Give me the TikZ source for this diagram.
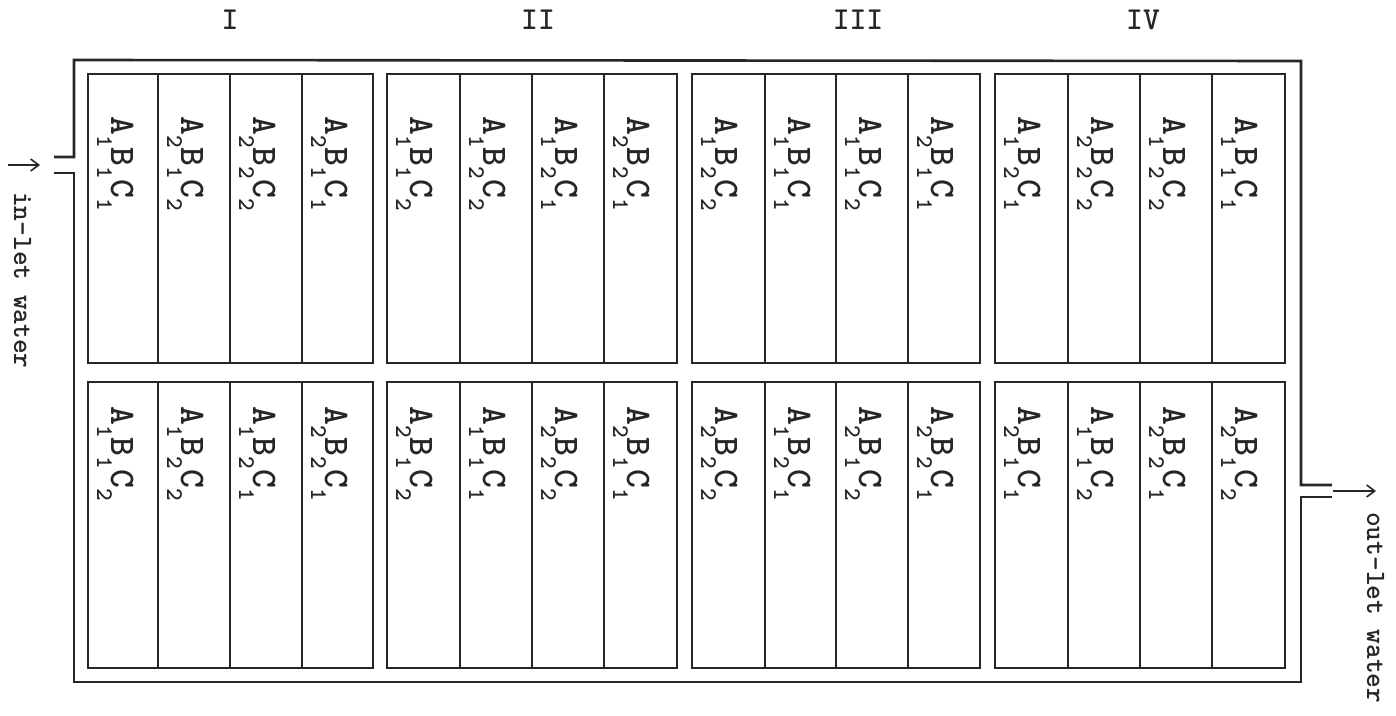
\documentclass[tikz,border=0pt]{standalone}
\usetikzlibrary{arrows.meta}
\newcommand\lsub[1]{\raisebox{-14pt}{\fontsize{24}{24}\selectfont #1}}
\newcommand\cellab[3]{A\lsub{#1}B\lsub{#2}C\lsub{#3}}
\begin{document}
\begin{tikzpicture}[x=1pt,y=1pt,
  wall/.style={line width=2.6pt, black!85, line join=miter},
  cellwall/.style={line width=2.4pt, black!85},
  celltext/.style={rotate=-90, anchor=base west, inner sep=0pt, text=black!85,
    font=\fontsize{36}{36}\selectfont\ttfamily\bfseries},
  sidetext/.style={rotate=-90, anchor=base west, inner sep=0pt, text=black!85,
    font=\fontsize{28}{28}\selectfont\ttfamily\bfseries},
  headtext/.style={inner sep=0pt, text=black!85, font=\fontsize{32}{32}\selectfont\ttfamily\bfseries},
  flow/.style={line width=1.6pt, black!85, -{Straight Barb[length=8pt,width=12pt,line width=1.6pt]}}]
\useasboundingbox (0,0) rectangle (1396,-715);

% outer channel with inlet and outlet
\draw[wall] (54,-157) -- (74,-157) -- (74,-60) -- (1301,-61) -- (1301,-485) -- (1332,-485);
\draw[wall] (1332,-497) -- (1301,-497) -- (1301,-682) -- (74,-682) -- (74,-173) -- (54,-173);

% blocks: top row and bottom row
\foreach \l/\r/\da/\db/\dc in {88/373/158/230/302, 387/677/460/532/604,
                               692/980/765/836/908, 995/1285/1068/1140/1212}{
  \draw[cellwall] (\l,-74) rectangle (\r,-363);
  \draw[cellwall] (\da,-74) -- (\da,-363) (\db,-74) -- (\db,-363) (\dc,-74) -- (\dc,-363);
  \draw[cellwall] (\l,-382) rectangle (\r,-668);
  \draw[cellwall] (\da,-382) -- (\da,-668) (\db,-382) -- (\db,-668) (\dc,-382) -- (\dc,-668);
}

% top row labels
\foreach \n/\x/\a/\b/\c in {
  t1/88/1/1/1, t2/158/2/1/2, t3/230/2/2/2, t4/302/2/1/1,
  t5/387/1/1/2, t6/460/1/2/2, t7/532/1/2/1, t8/604/2/2/1,
  t9/692/1/2/2, t10/765/1/1/1, t11/836/1/1/2, t12/908/2/1/1,
  t13/995/1/2/1, t14/1068/2/2/2, t15/1140/1/2/2, t16/1212/1/1/1}{
  \node[celltext] (\n) at (\x+23,-116) {\cellab{\a}{\b}{\c}};
}
% bottom row labels
\foreach \n/\x/\a/\b/\c in {
  b1/88/1/1/2, b2/158/1/2/2, b3/230/1/2/1, b4/302/2/2/1,
  b5/387/2/1/2, b6/460/1/1/1, b7/532/2/2/2, b8/604/2/1/1,
  b9/692/2/2/2, b10/765/1/2/1, b11/836/2/1/2, b12/908/2/2/1,
  b13/995/2/1/1, b14/1068/1/1/2, b15/1140/2/2/1, b16/1212/2/1/2}{
  \node[celltext] (\n) at (\x+23,-406) {\cellab{\a}{\b}{\c}};
}

% block headings
\node[headtext] (hI) at (230,-20) {I};
\node[headtext] (hII) at (538,-20) {II};
\node[headtext] (hIII) at (858,-20) {III};
\node[headtext] (hIV) at (1143,-20) {IV};

% inlet
\coordinate (inA) at (8,-165);
\coordinate (inB) at (40,-165);
\draw[flow] (inA) -- (inB);
\node[sidetext] (intext) at (14,-192) {in-let water};

% outlet
\coordinate (outA) at (1333,-491);
\coordinate (outB) at (1376,-491);
\draw[flow] (outA) -- (outB);
\node[sidetext] (outtext) at (1367,-512) {out-let water};
\end{tikzpicture}
\end{document}
